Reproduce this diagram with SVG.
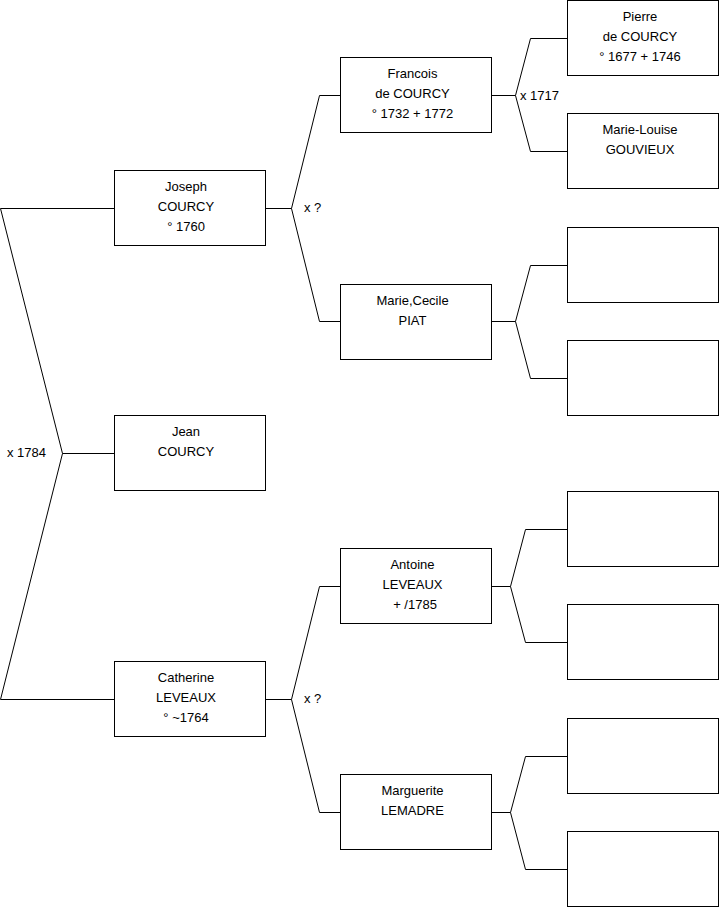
<svg xmlns="http://www.w3.org/2000/svg" width="719" height="908" viewBox="0 0 719 908">
<style>
.box{fill:#fff;stroke:#000;stroke-width:1}
.c{fill:none;stroke:#000;stroke-width:1}
text{font-family:"Liberation Sans",Arial,sans-serif;font-size:13px;fill:#000}
.m{text-anchor:middle}
</style>
<rect width="719" height="908" fill="#fff"/>
<g id="connectors">
<path class="c" d="M0.5,208.5 H114.5 M0.5,208.5 L62.5,453.5 L0.5,699.5 H114.5 M62.5,453.5 H114.5"/>
<path class="c" d="M265.5,208.5 H291.5 L319.5,95.5 H340.5 M291.5,208.5 L319.5,321.5 H340.5"/>
<path class="c" d="M265.5,699.5 H291.5 L319.5,586.5 H340.5 M291.5,699.5 L319.5,812.5 H340.5"/>
<path class="c" d="M491.5,95.5 H515.5 L530.5,38.5 H567.5 M515.5,95.5 L530.5,151.5 H567.5"/>
<path class="c" d="M491.5,321.5 H515.5 L530.5,265.5 H567.5 M515.5,321.5 L530.5,378.5 H567.5"/>
<path class="c" d="M491.5,586.5 H510.5 L525.5,529.5 H567.5 M510.5,586.5 L525.5,642.5 H567.5"/>
<path class="c" d="M491.5,812.5 H510.5 L525.5,756.5 H567.5 M510.5,812.5 L525.5,869.5 H567.5"/>
<text x="7" y="457">x 1784</text>
<text x="304" y="212">x ?</text>
<text x="304" y="703">x ?</text>
<text x="520" y="99.5">x 1717</text>
</g>
<g id="joseph"><rect class="box" x="114.5" y="170.5" width="151" height="75"/>
<text class="m" x="186" y="191">Joseph</text><text class="m" x="186" y="211">COURCY</text><text class="m" x="186" y="231">° 1760</text></g>
<g id="jean"><rect class="box" x="114.5" y="415.5" width="151" height="75"/>
<text class="m" x="186" y="436">Jean</text><text class="m" x="186" y="456">COURCY</text></g>
<g id="catherine"><rect class="box" x="114.5" y="661.5" width="151" height="75"/>
<text class="m" x="186" y="682">Catherine</text><text class="m" x="186" y="702">LEVEAUX</text><text class="m" x="186" y="722">° ~1764</text></g>
<g id="francois"><rect class="box" x="340.5" y="57.5" width="151" height="75"/>
<text class="m" x="412.5" y="78">Francois</text><text class="m" x="412.5" y="98">de COURCY</text><text class="m" x="412.5" y="118">° 1732 + 1772</text></g>
<g id="mariececile"><rect class="box" x="340.5" y="284.5" width="151" height="75"/>
<text class="m" x="412.5" y="305">Marie,Cecile</text><text class="m" x="412.5" y="325">PIAT</text></g>
<g id="antoine"><rect class="box" x="340.5" y="548.5" width="151" height="75"/>
<text class="m" x="412.5" y="569">Antoine</text><text class="m" x="412.5" y="589">LEVEAUX</text><text class="m" x="415" y="609">+ /1785</text></g>
<g id="marguerite"><rect class="box" x="340.5" y="774.5" width="151" height="75"/>
<text class="m" x="412.5" y="795">Marguerite</text><text class="m" x="412.5" y="815">LEMADRE</text></g>
<g id="pierre"><rect class="box" x="567.5" y="0.5" width="151" height="75"/>
<text class="m" x="640" y="21">Pierre</text><text class="m" x="640" y="41">de COURCY</text><text class="m" x="640" y="61">° 1677 + 1746</text></g>
<g id="marielouise"><rect class="box" x="567.5" y="113.5" width="151" height="75"/>
<text class="m" x="640" y="134">Marie-Louise</text><text class="m" x="640" y="154">GOUVIEUX</text></g>
<g id="empty1"><rect class="box" x="567.5" y="227.5" width="151" height="75"/></g>
<g id="empty2"><rect class="box" x="567.5" y="340.5" width="151" height="75"/></g>
<g id="empty3"><rect class="box" x="567.5" y="491.5" width="151" height="75"/></g>
<g id="empty4"><rect class="box" x="567.5" y="604.5" width="151" height="75"/></g>
<g id="empty5"><rect class="box" x="567.5" y="718.5" width="151" height="75"/></g>
<g id="empty6"><rect class="box" x="567.5" y="831.5" width="151" height="75"/></g>
</svg>
